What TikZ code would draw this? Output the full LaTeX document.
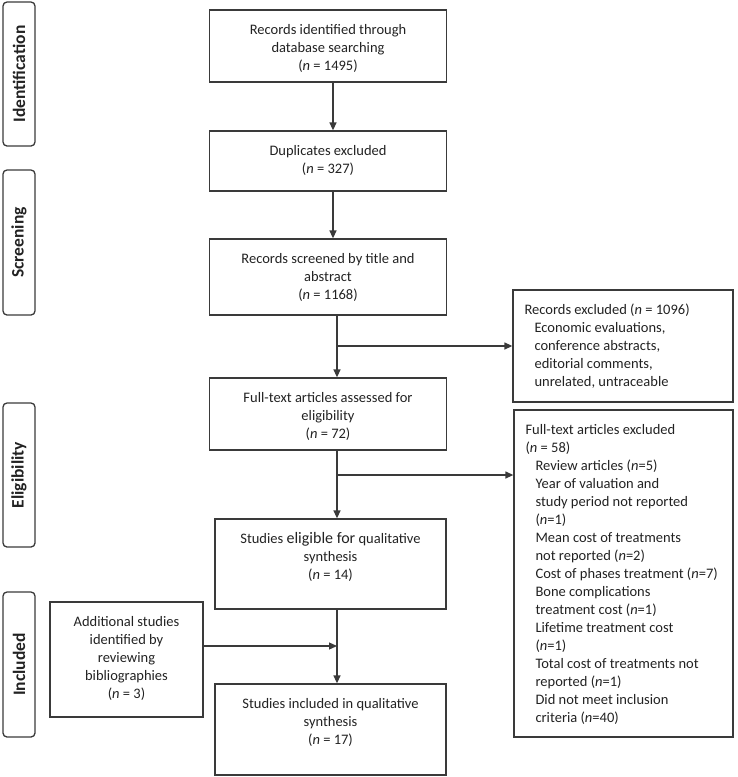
\documentclass[tikz,border=0pt]{standalone}
\usepackage{fontspec}
\setmainfont{Carlito}
\usetikzlibrary{arrows.meta}
\definecolor{ln}{HTML}{3A3A3A}
\definecolor{tx}{HTML}{222222}
\newcommand{\fl}{\rule{0pt}{12.6pt}}
\newcommand{\nn}{\textit{n}}
\newcommand{\ind}{\hspace*{10pt}}
\tikzset{
  box/.style={draw=ln, line width=1.3pt, inner sep=0pt},
  phase/.style={draw=ln, line width=1.3pt, rounded corners=4pt, inner sep=0pt, rotate=90,
    font=\fontsize{17.5}{20}\selectfont\bfseries, text=tx, minimum height=32pt},
  txt/.style={inner sep=0pt, font=\fontsize{14.5}{18}\selectfont, align=center, text=tx, anchor=north},
  ltxt/.style={inner sep=0pt, font=\fontsize{14.5}{18}\selectfont, align=left, text=tx, anchor=north west},
  arr/.style={draw=ln, line width=1.3pt, -{Triangle[length=8pt,width=7pt]}},
  con/.style={draw=ln, line width=1.3pt},
}
\begin{document}
\begin{tikzpicture}[x=1pt,y=-1pt]
\useasboundingbox (0,0) rectangle (737,777);
% phase labels
\node[phase, minimum width=144pt] (p1) at (19,74) {Identification};
\node[phase, minimum width=145pt] (p2) at (19,242.5) {Screening};
\node[phase, minimum width=144pt] (p3) at (19,475) {Eligibility};
\node[phase, minimum width=145pt] (p4) at (19,664.5) {Included};
% main boxes
\node[box, minimum width=237pt, minimum height=72pt] (b1) at (328,46) {};
\node[box, minimum width=237pt, minimum height=60pt] (b2) at (328,161) {};
\node[box, minimum width=237pt, minimum height=76pt] (b3) at (328,277) {};
\node[box, minimum width=237pt, minimum height=72pt] (b4) at (328,414) {};
\node[box, minimum width=231pt, minimum height=90pt] (b5) at (330.5,564) {};
\node[box, minimum width=231pt, minimum height=91pt] (b6) at (330.5,729.5) {};
\node[box, minimum width=220pt, minimum height=112pt] (r1) at (623,346) {};
\node[box, minimum width=219pt, minimum height=327pt] (r2) at (623.5,573.5) {};
\node[box, minimum width=153pt, minimum height=115pt] (ad) at (126.5,659.5) {};
% texts
\node[txt] (t1) at ([yshift=-12pt]b1.north) {\fl Records identified through\\database searching\\(\nn{} = 1495)};
\node[txt] (t2) at ([yshift=-12pt]b2.north) {\fl Duplicates excluded\\(\nn{} = 327)};
\node[txt] (t3) at ([yshift=-12pt]b3.north) {\fl Records screened by title and\\abstract\\(\nn{} = 1168)};
\node[txt] (t4) at ([yshift=-12pt]b4.north) {\fl Full-text articles assessed for\\eligibility\\(\nn{} = 72)};
\node[txt] (t5) at ([yshift=-12pt]b5.north) {\fl Studies {\fontsize{16}{18}\selectfont eligible for} qualitative\\synthesis\\(\nn{} = 14)};
\node[txt] (t6) at ([yshift=-12pt]b6.north) {\fl Studies included in qualitative\\synthesis\\(\nn{} = 17)};
\node[txt] (ta) at ([yshift=-12pt]ad.north) {\fl Additional studies\\identified by\\reviewing\\bibliographies\\(\nn{} = 3)};
\node[ltxt] (tr1) at ([xshift=12pt,yshift=-12pt]r1.north west) {\fl Records excluded (\nn{} = 1096)\\
\ind Economic evaluations,\\
\ind conference abstracts,\\
\ind editorial comments,\\
\ind unrelated, untraceable};
\node[ltxt] (tr2) at ([xshift=12pt,yshift=-12pt]r2.north west) {\fl Full-text articles excluded\\
(\nn{} = 58)\\
\ind Review articles (\nn=5)\\
\ind Year of valuation and\\
\ind study period not reported\\
\ind (\nn=1)\\
\ind Mean cost of treatments\\
\ind not reported (\nn=2)\\
\ind Cost of phases treatment (\nn=7)\\
\ind Bone complications\\
\ind treatment cost (\nn=1)\\
\ind Lifetime treatment cost\\
\ind (\nn=1)\\
\ind Total cost of treatments not\\
\ind reported (\nn=1)\\
\ind Did not meet inclusion\\
\ind criteria (\nn=40)};
% spines
\coordinate (sa) at (333,0);
\coordinate (sb) at (337,0);
\coordinate (j1) at (337,475);
\coordinate (j2) at (337,646);
% connectors
\draw[arr] (b1.south -| sa) -- (b2.north -| sa);
\draw[arr] (b2.south -| sa) -- (b3.north -| sa);
\draw[arr] (b3.south -| sb) -- (b4.north -| sb);
\draw[arr] (sb |- r1.west) -- (r1.west);
\draw[arr] (b4.south -| sb) -- (b5.north -| sb);
\draw[arr] (j1) -- (j1 -| r2.west);
\draw[arr] (b5.south -| sb) -- (b6.north -| sb);
\draw[arr] (j2 -| ad.east) -- (j2);
\end{tikzpicture}
\end{document}
